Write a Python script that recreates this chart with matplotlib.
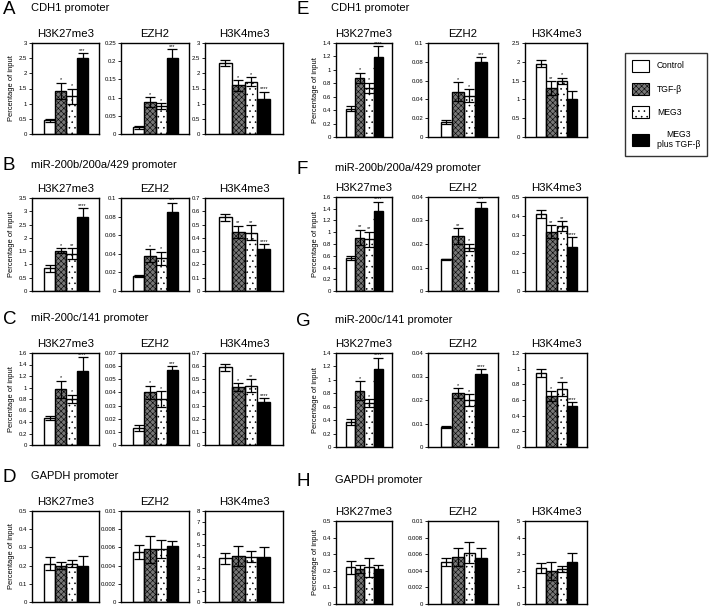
import matplotlib
matplotlib.use('Agg')
import matplotlib.pyplot as plt
from matplotlib.ticker import MultipleLocator, FuncFormatter
from matplotlib.patches import Patch

plt.rcParams['font.family'] = ['Liberation Sans', 'DejaVu Sans']
plt.rcParams['hatch.linewidth'] = 0.4

groups = ['Control', 'TGF-β', 'MEG3', 'MEG3\nplus TGF-β']
marks = ['H3K27me3', 'EZH2', 'H3K4me3']

# A - CDH1 promoter (left block)
a_mean = [[0.45, 1.42, 1.25, 2.5], [0.018, 0.088, 0.077, 0.21], [2.33, 1.6, 1.72, 1.15]]
a_err = [[0.05, 0.27, 0.25, 0.17], [0.005, 0.013, 0.008, 0.023], [0.1, 0.17, 0.15, 0.25]]
a_sig = [['', '*', '*', '***'], ['', '*', '*', '***'], ['', '*', '*', '****']]
a_ymax = [3, 0.25, 3]
a_step = [0.5, 0.05, 0.5]

# B - miR-200b/200a/429 promoter
b_mean = [[0.85, 1.52, 1.4, 2.77], [0.016, 0.038, 0.035, 0.085], [0.555, 0.445, 0.44, 0.315]]
b_err = [[0.12, 0.08, 0.2, 0.35], [0.001, 0.007, 0.007, 0.01], [0.025, 0.045, 0.055, 0.035]]
b_sig = [['', '*', '**', '****'], ['', '*', '*', '***'], ['', '**', '**', '****']]
b_ymax = [3.5, 0.1, 0.7]
b_step = [0.5, 0.02, 0.1]

# C - miR-200c/141 promoter
c_mean = [[0.47, 0.97, 0.8, 1.29], [0.013, 0.04, 0.035, 0.057], [0.59, 0.44, 0.45, 0.325]]
c_err = [[0.04, 0.15, 0.07, 0.24], [0.002, 0.005, 0.006, 0.003], [0.03, 0.03, 0.05, 0.03]]
c_sig = [['', '*', '*', '****'], ['', '*', '*', '***'], ['', '*', '**', '****']]
c_ymax = [1.6, 0.07, 0.7]
c_step = [0.2, 0.01, 0.1]

# D - GAPDH promoter
d_mean = [[0.21, 0.2, 0.21, 0.2], [0.0055, 0.0058, 0.0058, 0.0062], [3.85, 4.05, 4.0, 4.0]]
d_err = [[0.035, 0.02, 0.02, 0.055], [0.0008, 0.0015, 0.001, 0.0005], [0.5, 0.9, 0.45, 0.85]]
d_sig = [['', '', '', ''], ['', '', '', ''], ['', '', '', '']]
d_ymax = [0.5, 0.01, 8]
d_step = [0.1, 0.002, 1]

# E - CDH1 promoter (right block)
e_mean = [[0.42, 0.88, 0.73, 1.19], [0.016, 0.048, 0.044, 0.08], [1.95, 1.3, 1.5, 1.0]]
e_err = [[0.04, 0.08, 0.08, 0.16], [0.002, 0.01, 0.007, 0.005], [0.1, 0.18, 0.08, 0.23]]
e_sig = [['', '*', '*', '****'], ['', '*', '*', '***'], ['', '**', '*', '']]
e_ymax = [1.4, 0.1, 2.5]
e_step = [0.2, 0.02, 0.5]

# F - miR-200b/200a/429 promoter
f_mean = [[0.56, 0.91, 0.88, 1.37], [0.0135, 0.0235, 0.0185, 0.0355], [0.41, 0.315, 0.345, 0.235]]
f_err = [[0.04, 0.13, 0.13, 0.15], [0.0003, 0.0033, 0.0015, 0.0025], [0.02, 0.035, 0.025, 0.05]]
f_sig = [['', '**', '**', '****'], ['', '**', '*', '***'], ['', '**', '**', '****']]
f_ymax = [1.6, 0.04, 0.5]
f_step = [0.2, 0.01, 0.1]

# G - miR-200c/141 promoter
g_mean = [[0.37, 0.84, 0.65, 1.16], [0.0085, 0.023, 0.02, 0.031], [0.94, 0.65, 0.74, 0.52]]
g_err = [[0.04, 0.14, 0.06, 0.17], [0.0005, 0.002, 0.0025, 0.002], [0.05, 0.06, 0.09, 0.05]]
g_sig = [['', '*', '*', '****'], ['', '*', '*', '****'], ['', '*', '**', '****']]
g_ymax = [1.4, 0.04, 1.2]
g_step = [0.2, 0.01, 0.2]

# H - GAPDH promoter
h_mean = [[0.22, 0.21, 0.22, 0.21], [0.0051, 0.0057, 0.0062, 0.0055], [2.15, 2.0, 2.1, 2.55]]
h_err = [[0.04, 0.025, 0.055, 0.025], [0.0005, 0.0011, 0.0013, 0.0012], [0.3, 0.55, 0.2, 0.55]]
h_sig = [['', '', '', ''], ['', '', '', ''], ['', '', '', '']]
h_ymax = [0.5, 0.01, 5]
h_step = [0.1, 0.002, 1]

# bar styles: face, hatch, hatch colour
styles = [('white', '', 'black'), ('#777777', 'xxxxxx', 'black'),
          ('white', '...', 'black'), ('black', '', 'black')]

W, H = 713, 609
fig = plt.figure(figsize=(W / 100, H / 100), dpi=100)


def px_axes(l, r, t, b):
    return fig.add_axes([l / W, 1 - b / H, (r - l) / W, (b - t) / H])


left_cols = [(32, 99), (121, 189), (205, 283)]
right_cols = [(336, 392), (428, 498), (525, 587)]

panels = [
    ('A', 'CDH1 promoter', a_mean, a_err, a_sig, a_ymax, a_step, 43, 134, left_cols, 3, 8, 31),
    ('B', 'miR-200b/200a/429 promoter', b_mean, b_err, b_sig, b_ymax, b_step, 198, 291, left_cols, 3, 165, 31),
    ('C', 'miR-200c/141 promoter', c_mean, c_err, c_sig, c_ymax, c_step, 353, 445, left_cols, 3, 318, 31),
    ('D', 'GAPDH promoter', d_mean, d_err, d_sig, d_ymax, d_step, 511, 602, left_cols, 3, 476, 31),
    ('E', 'CDH1 promoter', e_mean, e_err, e_sig, e_ymax, e_step, 43, 137, right_cols, 296, 8, 331),
    ('F', 'miR-200b/200a/429 promoter', f_mean, f_err, f_sig, f_ymax, f_step, 197, 291, right_cols, 296, 168, 335),
    ('G', 'miR-200c/141 promoter', g_mean, g_err, g_sig, g_ymax, g_step, 353, 447, right_cols, 296, 320, 335),
    ('H', 'GAPDH promoter', h_mean, h_err, h_sig, h_ymax, h_step, 521, 604, right_cols, 296, 480, 335),
]

fmt = FuncFormatter(lambda v, p: f'{v:g}')
xs = range(4)

for letter, title, mean, err, sig, ymax, step, top, bot, cols, lx, ty, tx in panels:
    fig.text(lx / W, 1 - (ty + 1) / H, letter, fontsize=13.5, va='center', ha='left')
    fig.text(tx / W, 1 - ty / H, title, fontsize=8, va='center', ha='left')
    for i, (l, r) in enumerate(cols):
        ax = px_axes(l, r, top, bot)
        for x, v, (fc, hatch, hc) in zip(xs, mean[i], styles):
            ax.bar(x, v, width=1, color=fc, hatch=hatch, edgecolor=hc, linewidth=0)
        ax.bar(xs, mean[i], width=1, fill=False, edgecolor='black', linewidth=1.0)
        ax.errorbar(xs, mean[i], yerr=err[i], fmt='none', ecolor='black',
                    elinewidth=0.9, capsize=3.3, capthick=0.9)
        for x, v, e, s in zip(xs, mean[i], err[i], sig[i]):
            if s:
                ax.text(x, v + e + ymax[i] * 0.005, s, ha='center', va='bottom', fontsize=4)
        ax.set_xlim(-1.6, 4.5)
        ax.set_ylim(0, ymax[i])
        ax.yaxis.set_major_locator(MultipleLocator(step[i]))
        ax.yaxis.set_major_formatter(fmt)
        ax.set_xticks([])
        ax.tick_params(axis='y', labelsize=4.3, length=2, width=0.6, pad=1.5)
        for sp in ax.spines.values():
            sp.set_linewidth(1.0)
        ax.set_title(marks[i], fontsize=8.2, pad=4)
        if i == 0:
            ax.set_ylabel('Percentage of input', fontsize=5.4, labelpad=3)

handles = [Patch(facecolor=fc, hatch=h, edgecolor='black', linewidth=0.8) for fc, h, hc in styles]
leg = fig.legend(handles, groups, loc='upper left', bbox_to_anchor=(625 / W, 1 - 53 / H),
                 fontsize=6.2, frameon=True, fancybox=False, edgecolor='black',
                 handlelength=2.0, handleheight=1.7, labelspacing=1.35, borderpad=0.8,
                 handletextpad=0.9, borderaxespad=0)
leg.get_frame().set_linewidth(1.0)
for t in leg.get_texts():
    t.set_multialignment('center')

fig.savefig('out.png', dpi=100)
